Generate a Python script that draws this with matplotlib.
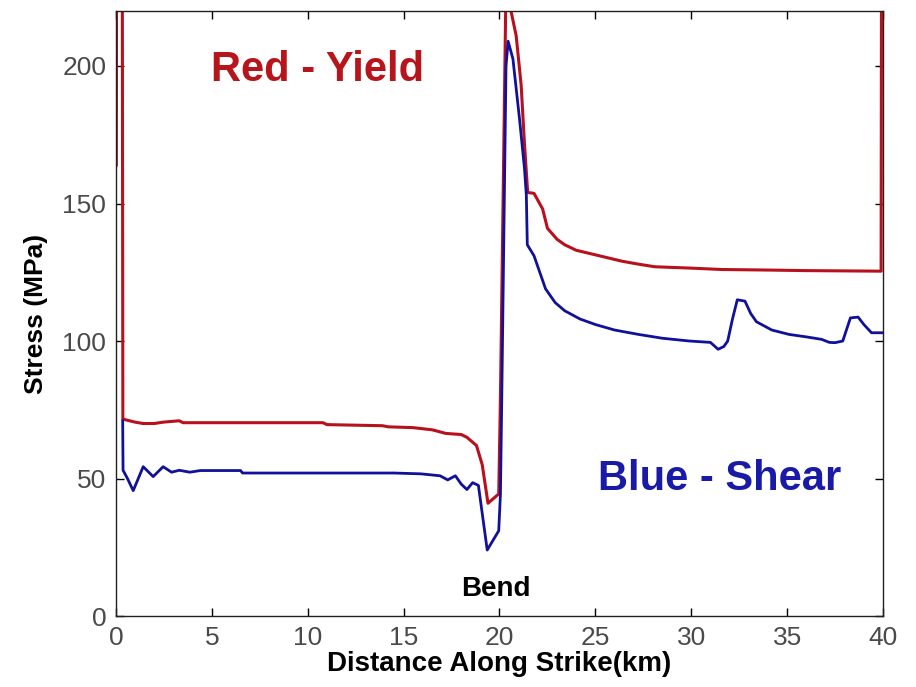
import matplotlib.pyplot as plt

plt.rcParams['font.family'] = ['Liberation Sans', 'DejaVu Sans']

# yield stress along strike (red)
yield_km = [0.02, 0.06, 0.30, 0.36, 1.0, 1.42, 2.0, 2.46, 3.3, 3.5, 10.8, 11.0, 13.9, 14.2,
            15.5, 16.5, 17.2, 18.0, 18.3, 18.8, 19.1, 19.4, 19.96, 20.05, 20.34, 20.45,
            20.87, 21.13, 21.3, 21.47, 21.8, 22.25, 22.5, 23.0, 23.4, 24.0, 24.6,
            25.5, 26.4, 27.2, 28.1, 30.0, 31.6, 34.0, 36.0, 39.9, 39.95]
yield_mpa = [164, 400, 400, 71.6, 70.5, 70, 70, 70.5, 71, 70.3, 70.3, 69.6, 69.2, 68.8,
             68.5, 67.7, 66.4, 66, 65, 62, 55, 41, 44.4, 80, 230, 225,
             211, 193, 172, 154, 153.7, 148, 141, 137, 135, 133, 132,
             130.5, 129, 128, 127, 126.5, 126, 125.8, 125.6, 125.4, 400]

# shear stress along strike (blue)
shear_km = [0.35, 0.37, 0.6, 0.9, 1.42, 1.94, 2.46, 2.9, 3.3, 3.85, 4.4, 6.5, 6.6, 14.5,
            15.9, 16.9, 17.3, 17.7, 18.0, 18.3, 18.6, 18.9, 19.36, 19.96, 20.05, 20.12,
            20.34, 20.45, 20.7, 21.04, 21.3, 21.4, 21.45, 21.8, 22.1, 22.4, 22.9, 23.4,
            24.2, 25.0, 26.0, 27.25, 28.5, 29.9, 31.0, 31.4, 31.7, 31.9, 32.15, 32.4,
            32.8, 33.1, 33.4, 34.2, 35.1, 36.0, 36.8, 37.2, 37.5, 37.9, 38.3, 38.7,
            39.0, 39.4, 40.0]
shear_mpa = [71, 53, 50, 45.6, 54.3, 50.7, 54.3, 52.3, 53, 52.3, 52.9, 52.9, 52, 52,
             51.7, 51, 49.5, 51, 48, 46, 48.5, 47.5, 24, 31, 44.5, 80,
             200, 209, 202.6, 181, 163, 153, 135, 131, 125, 119, 114, 111,
             108, 106, 104, 102.4, 101, 100, 99.5, 97, 98, 100, 108, 115,
             114.5, 110, 107, 104, 102.4, 101.5, 100.6, 99.5, 99.4, 100, 108.4, 108.7,
             106, 103, 103]

fig = plt.figure(figsize=(9.16, 6.87), dpi=100)
ax = fig.add_axes([0.1266, 0.1033, 0.964 - 0.1266, 0.984 - 0.1033])

ax.plot(yield_km, yield_mpa, color='#b8101c', linewidth=2.2)
ax.plot(shear_km, shear_mpa, color='#10109a', linewidth=2.0)

ax.set_xlim(0, 40)
ax.set_ylim(0, 220)
ax.set_xticks(range(0, 41, 5))
ax.set_yticks([0, 50, 100, 150, 200])
ax.tick_params(direction='in', length=6, width=1, top=True, right=True,
               labelsize=19, labelcolor='#4a4a4a', pad=7)
for s in ax.spines.values():
    s.set_linewidth(1.0)
    s.set_color('#202020')

ax.set_xlabel('Distance Along Strike(km)', fontsize=20, fontweight='bold', labelpad=1)
ax.set_ylabel('Stress (MPa)', fontsize=19, fontweight='bold', labelpad=10)

ax.text(10.5, 198.5, 'Red - Yield', color='#b8141c', fontsize=30, fontweight='bold',
        ha='center', va='center')
ax.text(31.5, 50, 'Blue - Shear', color='#1a1aa8', fontsize=30, fontweight='bold',
        ha='center', va='center')
ax.text(19.8, 10, 'Bend', color='black', fontsize=20, fontweight='bold',
        ha='center', va='center')

fig.savefig('out.png', dpi=100)
